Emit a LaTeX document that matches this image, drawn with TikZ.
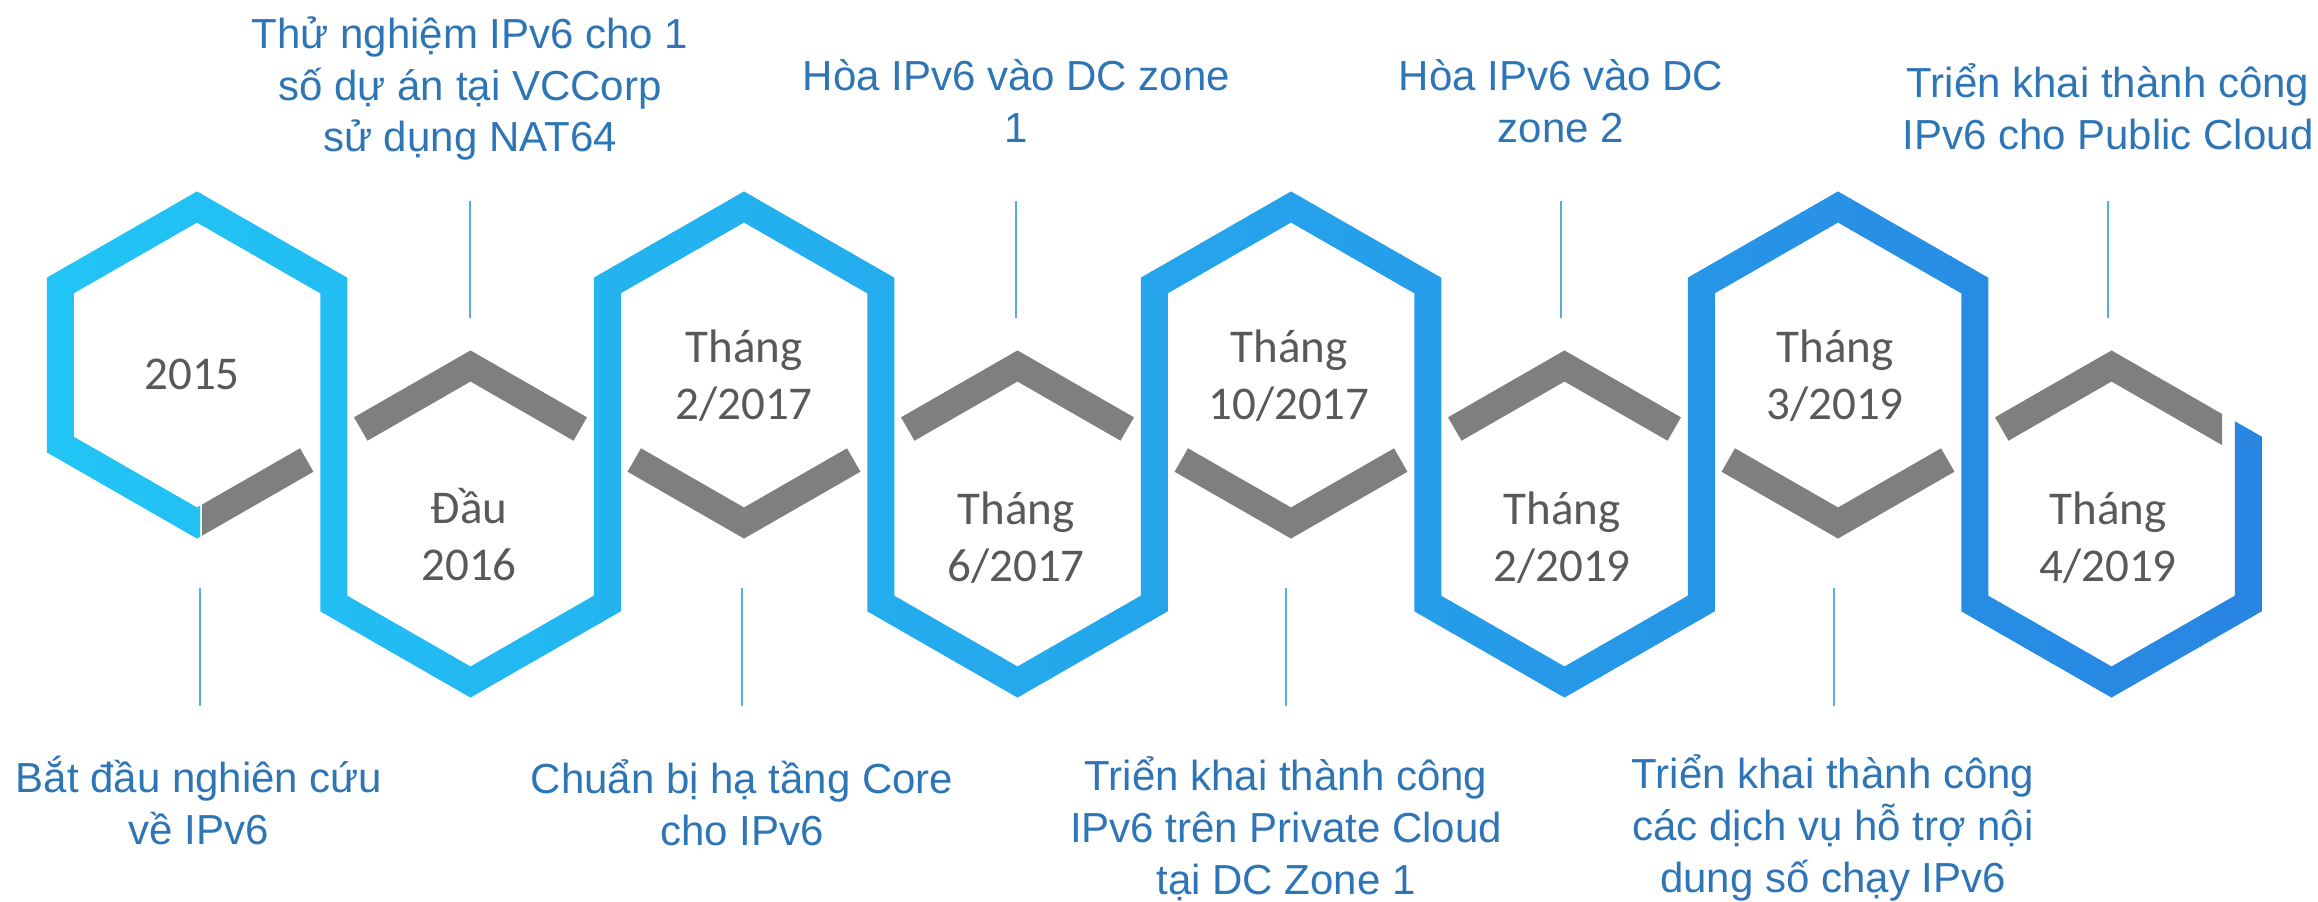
\documentclass[tikz,border=0pt]{standalone}
\usepackage{fontspec}
\setmainfont{Liberation Sans}
\newfontfamily\hexfont{Carlito}
\definecolor{labelblue}{RGB}{46,117,182}
\definecolor{hexgray}{RGB}{89,89,89}
\definecolor{chevgray}{RGB}{127,127,127}
\definecolor{blueL}{RGB}{33,197,245}
\definecolor{blueR}{RGB}{40,133,226}
\definecolor{tickblue}{RGB}{85,172,228}
\begin{document}
\begin{tikzpicture}[x=1pt,y=-1pt,
  lbl/.style={anchor=base, inner sep=0pt, text=labelblue, font=\fontsize{42}{52}\selectfont},
  hexlbl/.style={anchor=base, inner sep=0pt, text=hexgray, font=\hexfont\fontsize{47}{57}\selectfont},
  chev/.style={draw=chevgray, line width=27pt, line join=miter},
  tick/.style={draw=tickblue, line width=2.5pt}]
\useasboundingbox (0,0) rectangle (2318,902);

% ---- blue hexagon chain (horizontal gradient by strips) ----
\def\bluepath{(210,515.5) -- (197,523) -- (60.25,444.5) -- (60.25,285.5) -- (197,207) -- (333.75,285.5) -- (333.75,603.5) -- (470.5,682) -- (607.25,603.5) -- (607.25,285.5) -- (744,207) -- (880.75,285.5) -- (880.75,603.5) -- (1017.5,682) -- (1154.25,603.5) -- (1154.25,285.5) -- (1291,207) -- (1427.75,285.5) -- (1427.75,603.5) -- (1564.5,682) -- (1701.25,603.5) -- (1701.25,285.5) -- (1838,207) -- (1974.75,285.5) -- (1974.75,603.5) -- (2111.5,682) -- (2248.25,603.5) -- (2248.25,380)}
\begin{scope}
  \clip (-10,-10) -- (2200,-10) -- (2200,401.2) -- (2330,475.8) -- (2330,912) -- (260,912) -- (260,470) -- (200,470) -- (200,912) -- (-10,912) -- cycle;
  \foreach \k in {0,...,46} {
    \pgfmathtruncatemacro{\p}{max(0,min(100,round((50*\k-25)/22.1)))}
    \begin{scope}
      \clip (50*\k,-10) rectangle (50*\k+52,912);
      \draw[draw=blueR!\p!blueL, line width=27pt, line join=miter] \bluepath;
    \end{scope}
  }
\end{scope}

% ---- gray chevrons ----
\begin{scope}
  \clip (202,0) rectangle (400,902);
  \draw[chev] (177,534.5) -- (306.75,460);
\end{scope}
\draw[chev] (360.75,429) -- (470.5,366) -- (580.25,429);
\draw[chev] (634.25,460) -- (744,523) -- (853.75,460);
\draw[chev] (907.75,429) -- (1017.5,366) -- (1127.25,429);
\draw[chev] (1181.25,460) -- (1291,523) -- (1400.75,460);
\draw[chev] (1454.75,429) -- (1564.5,366) -- (1674.25,429);
\draw[chev] (1728.25,460) -- (1838,523) -- (1947.75,460);
\begin{scope}
  \clip (1900,0) rectangle (2222,902);
  \draw[chev] (2001.75,429) -- (2111.5,366) -- (2260,451.3);
\end{scope}

% ---- thin ticks ----
\coordinate (u2a) at (470,201);  \coordinate (u2b) at (470,318);
\coordinate (u4a) at (1016,201); \coordinate (u4b) at (1016,318);
\coordinate (u6a) at (1561,201); \coordinate (u6b) at (1561,318);
\coordinate (u8a) at (2108,201); \coordinate (u8b) at (2108,318);
\coordinate (d1a) at (200,588);  \coordinate (d1b) at (200,706);
\coordinate (d3a) at (742,588);  \coordinate (d3b) at (742,706);
\coordinate (d5a) at (1286,588); \coordinate (d5b) at (1286,706);
\coordinate (d7a) at (1834,588); \coordinate (d7b) at (1834,706);
\foreach \a/\b in {u2a/u2b,u4a/u4b,u6a/u6b,u8a/u8b,d1a/d1b,d3a/d3b,d5a/d5b,d7a/d7b}
  \draw[tick] (\a) -- (\b);

% ---- hexagon labels ----
\node[hexlbl] (h1) at (192,389) {2015};
\node[hexlbl] (h2) at (469,523) {\begin{tabular}[t]{@{}c@{}}Đầu\\2016\end{tabular}};
\node[hexlbl] (h3) at (744,362) {\begin{tabular}[t]{@{}c@{}}Tháng\\2/2017\end{tabular}};
\node[hexlbl] (h4) at (1016,524) {\begin{tabular}[t]{@{}c@{}}Tháng\\6/2017\end{tabular}};
\node[hexlbl] (h5) at (1289,362) {\begin{tabular}[t]{@{}c@{}}Tháng\\10/2017\end{tabular}};
\node[hexlbl] (h6) at (1562,524) {\begin{tabular}[t]{@{}c@{}}Tháng\\2/2019\end{tabular}};
\node[hexlbl] (h7) at (1835,362) {\begin{tabular}[t]{@{}c@{}}Tháng\\3/2019\end{tabular}};
\node[hexlbl] (h8) at (2108,524) {\begin{tabular}[t]{@{}c@{}}Tháng\\4/2019\end{tabular}};

% ---- top labels ----
\node[lbl] (t2) at (470,48) {\begin{tabular}[t]{@{}c@{}}Thử nghiệm IPv6 cho 1\\số dự án tại VCCorp\\sử dụng NAT64\end{tabular}};
\node[lbl] (t4) at (1016.5,90) {\begin{tabular}[t]{@{}c@{}}Hòa IPv6 vào DC zone\\1\end{tabular}};
\node[lbl] (t6) at (1561,90) {\begin{tabular}[t]{@{}c@{}}Hòa IPv6 vào DC\\zone 2\end{tabular}};
\node[lbl] (t8) at (2108,97) {\begin{tabular}[t]{@{}c@{}}Triển khai thành công\\IPv6 cho Public Cloud\end{tabular}};

% ---- bottom labels ----
\node[lbl] (b1) at (199,792) {\begin{tabular}[t]{@{}c@{}}Bắt đầu nghiên cứu\\về IPv6\end{tabular}};
\node[lbl] (b3) at (742,793) {\begin{tabular}[t]{@{}c@{}}Chuẩn bị hạ tầng Core\\cho IPv6\end{tabular}};
\node[lbl] (b5) at (1286,790) {\begin{tabular}[t]{@{}c@{}}Triển khai thành công\\IPv6 trên Private Cloud\\tại DC Zone 1\end{tabular}};
\node[lbl] (b7) at (1833,788) {\begin{tabular}[t]{@{}c@{}}Triển khai thành công\\các dịch vụ hỗ trợ nội\\dung số chạy IPv6\end{tabular}};
\end{tikzpicture}
\end{document}
